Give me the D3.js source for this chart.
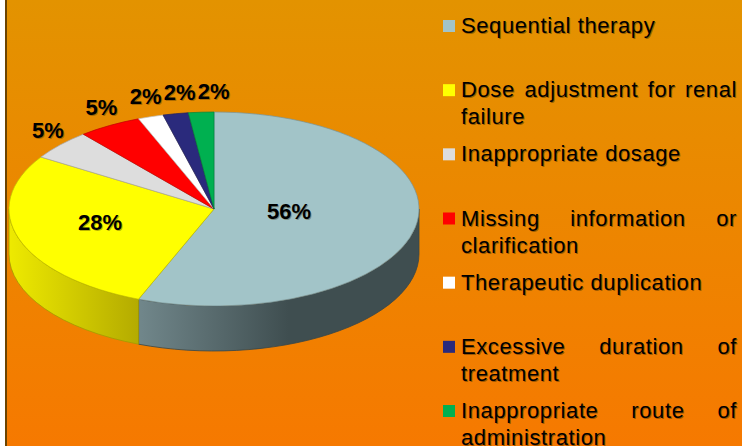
<!DOCTYPE html>
<html>
<head>
<meta charset="utf-8">
<script src="https://cdn.jsdelivr.net/npm/d3@7"></script>
<style>
  html, body { margin: 0; padding: 0; background: #fff; }
  svg { display: block; }
  text { font-family: Arial, "Liberation Sans", sans-serif; }
</style>
</head>
<body>
<svg id="chart" width="742" height="446"></svg>
<script>
const categories = [
    "Sequential therapy",
    "Dose adjustment for renal failure",
    "Inappropriate dosage",
    "Missing information or clarification",
    "Therapeutic duplication",
    "Excessive duration of treatment",
    "Inappropriate route of administration"
];
const values = [56, 28, 5, 5, 2, 2, 2];
const sliceColors = ["#a2c4c8", "#ffff00", "#dddddd", "#ff0000", "#ffffff", "#2a2a7c", "#00b050"];
// side (depth) shading, light -> dark
const sideColors = [
    ["#71878b", "#3f4e50"], ["#eeea00", "#b4ab00"], ["#c8c8c8", "#8a8a8a"], ["#d80000", "#8c0000"],
    ["#e8e8e8", "#a8a8a8"], ["#22226a", "#141440"], ["#009944", "#006630"]
];

(function (d3) {
    'use strict';

    const W = 742, H = 446;
    const svg = d3.select("#chart");
    const defs = svg.append("defs");

    // background
    const bg = defs.append("linearGradient").attr("id", "bg")
        .attr("x1", 0).attr("y1", 0).attr("x2", 0).attr("y2", 1);
    bg.append("stop").attr("offset", 0).attr("stop-color", "#e39300");
    bg.append("stop").attr("offset", 1).attr("stop-color", "#f67900");

    svg.append("rect").attr("width", W).attr("height", H).attr("fill", "#fff");
    svg.append("rect").attr("x", 7).attr("width", W - 7).attr("height", H).attr("fill", "url(#bg)");
    svg.append("rect").attr("x", 5).attr("width", 2).attr("height", H).attr("fill", "#6b4300");

    // pie geometry
    const cx = 214, cy = 209, rx = 205, ry = 97, depth = 45;
    const pt = (a, dy) => [cx + rx * Math.sin(a), cy - ry * Math.cos(a) + (dy || 0)];

    const arcs = d3.pie().sort(null).value(d => d)(values);

    // side faces (front half only)
    const sides = svg.append("g");
    arcs.forEach((d, i) => {
        const a0 = Math.max(d.startAngle, Math.PI / 2);
        const a1 = Math.min(d.endAngle, Math.PI * 1.5);
        if (a0 >= a1) return;
        const p0 = pt(a0), p1 = pt(a1), q1 = pt(a1, depth), q0 = pt(a0, depth);
        const xs = d3.range(0, 41).map(k => pt(a0 + (a1 - a0) * k / 40)[0]);
        const xmin = d3.min(xs), xmax = d3.max(xs);
        const gid = "side" + i;
        const g = defs.append("linearGradient").attr("id", gid)
            .attr("gradientUnits", "userSpaceOnUse")
            .attr("x1", xmin).attr("x2", xmax).attr("y1", 0).attr("y2", 0);
        g.append("stop").attr("offset", 0).attr("stop-color", sideColors[i][0]);
        g.append("stop").attr("offset", Math.min(1, 150 / (xmax - xmin))).attr("stop-color", sideColors[i][1]);
        g.append("stop").attr("offset", 1).attr("stop-color", sideColors[i][1]);

        const dStr = `M${p0} A${rx},${ry} 0 0 1 ${p1} L${q1} A${rx},${ry} 0 0 0 ${q0} Z`;
        sides.append("path")
            .attr("d", dStr)
            .attr("fill", `url(#${gid})`)
            .attr("stroke", d3.color(sideColors[i][1]).darker(0.3))
            .attr("stroke-width", 0.8);
    });

    // top faces
    const arc = d3.arc().innerRadius(0).outerRadius(rx);
    svg.append("g")
        .attr("transform", `translate(${cx},${cy}) scale(1,${ry / rx})`)
        .selectAll("path")
        .data(arcs)
        .enter()
        .append("path")
        .attr("d", arc)
        .attr("fill", (d, i) => sliceColors[i])
        .attr("stroke", (d, i) => d3.color(sliceColors[i]).darker(0.8))
        .attr("stroke-width", 0.7)
        .attr("vector-effect", "non-scaling-stroke");

    // data labels
    const labelG = svg.append("g")
        .style("font-size", "22px")
        .style("font-weight", "bold");

    const labels = arcs.map(d => {
        const mid = (d.startAngle + d.endAngle) / 2;
        const theta = d.endAngle - d.startAngle;
        let x, y, inside = d.value >= 10;
        if (inside) {
            // centroid of the sector, a bit pulled towards the top
            const f = 4 * Math.sin(theta / 2) / (3 * theta);
            x = cx + rx * f * Math.sin(mid);
            y = cy - ry * f * Math.cos(mid) - 4;
        } else {
            x = cx + rx * 1.08 * Math.sin(mid);
            y = cy - ry * 1.22 * Math.cos(mid);
        }
        return {text: d.value + "%", x, y, inside};
    });

    // push outside labels apart from left to right
    const outside = labels.filter(l => !l.inside).sort((a, b) => a.x - b.x);
    for (let i = 1; i < outside.length; i++) {
        if (outside[i].x < outside[i - 1].x + 34) outside[i].x = outside[i - 1].x + 34;
    }

    labels.forEach(l => {
        labelG.append("text")
            .attr("x", l.x + 1).attr("y", l.y + 1).attr("dy", "0.35em")
            .attr("text-anchor", "middle")
            .attr("fill", "rgba(60,40,0,0.35)")
            .text(l.text);
        labelG.append("text")
            .attr("x", l.x).attr("y", l.y).attr("dy", "0.35em")
            .attr("text-anchor", "middle")
            .attr("fill", "#000")
            .text(l.text);
    });

    // legend
    const legX = 443, textX = 461, maxW = 276, lineH = 27;
    const legY = d3.scaleLinear().domain([0, categories.length - 1]).range([33, 418]);
    const leg = svg.append("g")
        .style("font-size", "22px")
        .style("letter-spacing", "0.6px");

    const measure = leg.append("text").attr("x", -1000).attr("y", -1000);
    const widthOf = s => { measure.text(s); return measure.node().getComputedTextLength(); };

    function drawText(x, y, s) {
        leg.append("text").attr("x", x + 1).attr("y", y + 1)
            .attr("fill", "rgba(60,40,0,0.45)").text(s);
        leg.append("text").attr("x", x).attr("y", y)
            .attr("fill", "#000").text(s);
    }

    categories.forEach((name, i) => {
        const y0 = legY(i);
        leg.append("rect")
            .attr("x", legX).attr("y", y0 - 13)
            .attr("width", 12).attr("height", 12)
            .attr("fill", sliceColors[i]);

        // greedy word wrap
        const words = name.split(" ");
        const lines = [];
        let cur = [];
        words.forEach(w => {
            const test = cur.concat([w]).join(" ");
            if (cur.length && widthOf(test) > maxW) {
                lines.push(cur);
                cur = [w];
            } else {
                cur.push(w);
            }
        });
        lines.push(cur);

        lines.forEach((ln, j) => {
            const y = y0 + j * lineH;
            const last = j === lines.length - 1;
            if (last || ln.length < 2) {
                drawText(textX, y, ln.join(" "));
            } else {
                // justified line
                const ws = ln.map(widthOf);
                const gap = (maxW - d3.sum(ws)) / (ln.length - 1);
                let x = textX;
                ln.forEach((w, k) => {
                    drawText(x, y, w);
                    x += ws[k] + gap;
                });
            }
        });
    });
    measure.remove();

}(d3));
</script>
</body>
</html>
